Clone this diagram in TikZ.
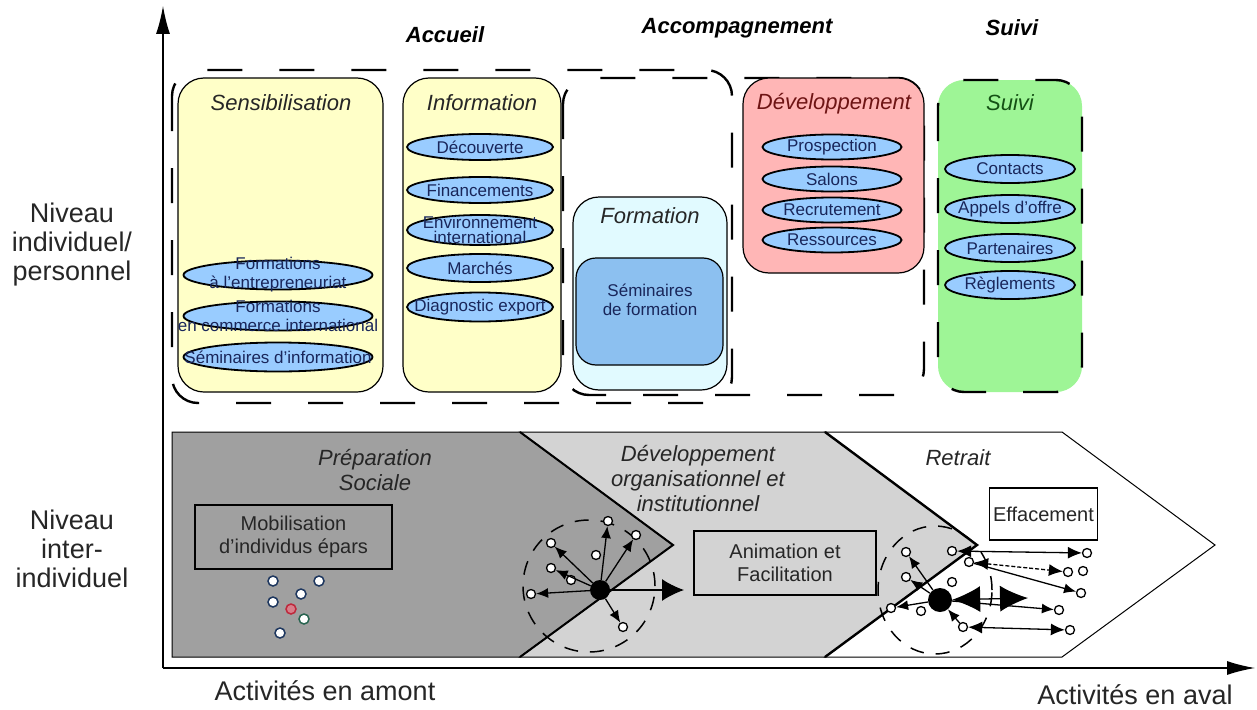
\documentclass[tikz,border=0pt]{standalone}
\usepackage{fontspec}
\setmainfont{Liberation Sans}
\usetikzlibrary{shapes.geometric,arrows.meta}
\definecolor{boxyellow}{RGB}{255,255,200}
\definecolor{ovalblue}{RGB}{153,204,255}
\definecolor{formcyan}{RGB}{225,250,255}
\definecolor{seminblue}{RGB}{140,192,240}
\definecolor{devpink}{RGB}{255,182,182}
\definecolor{suivigreen}{RGB}{158,245,150}
\definecolor{navytext}{RGB}{25,38,90}
\definecolor{devred}{RGB}{110,20,20}
\definecolor{suividark}{RGB}{20,80,20}
\definecolor{darkchev}{RGB}{160,160,160}
\definecolor{lightchev}{RGB}{211,211,211}
\definecolor{dotblue}{RGB}{30,55,95}
\definecolor{dotred}{RGB}{190,40,60}
\definecolor{dotgreen}{RGB}{40,100,80}

\begin{document}
\begin{tikzpicture}[x=1pt,y=-1pt, % pixel grid of the scanned figure
  axis/.style={line width=1.3pt,-{Latex[length=28pt,width=14pt]}},
  zone/.style={draw,line width=2.4pt,dash pattern=on 35pt off 37pt,rounded corners=26pt},
  phase/.style={draw,line width=1.2pt,rounded corners=26pt},
  title/.style={font=\fontsize{22}{22}\selectfont\itshape,text=black!85},
  head/.style={font=\fontsize{22}{22}\selectfont\bfseries\itshape},
  side/.style={font=\fontsize{27}{29}\selectfont,align=center,text=black!85},
  oval/.style={ellipse,draw,line width=1.8pt,fill=ovalblue,inner sep=0pt},
  ovaltext/.style={font=\fontsize{17}{17}\selectfont,text=navytext,align=center,inner sep=0pt},
  stage/.style={font=\fontsize{22}{25}\selectfont\itshape,align=center,text=black!85},
  act/.style={draw,line width=1.2pt,font=\fontsize{20}{23}\selectfont,align=center,text=black!85},
  pdot/.style={circle,draw=dotblue,line width=1.5pt,fill=white,inner sep=0pt,minimum size=10pt},
  dot/.style={circle,draw,line width=1.3pt,fill=white,inner sep=0pt,minimum size=9pt},
  blob/.style={circle,fill=black,inner sep=0pt,minimum size=20pt},
  ring/.style={line width=1.5pt,dash pattern=on 14pt off 12pt},
  spoke/.style={line width=1.3pt,-{Latex[length=12pt,width=10pt]}},
  twoway/.style={line width=1.3pt,{Latex[length=14pt,width=12pt]}-{Latex[length=14pt,width=12pt]}},
  bigspoke/.style={line width=1.3pt,-{Latex[length=22pt,width=22pt]}},
  bigtwoway/.style={line width=1.3pt,{Latex[length=28pt,width=26pt]}-{Latex[length=28pt,width=26pt]}}]

\useasboundingbox (0,0) rectangle (1257,709);

\coordinate (o) at (163,668);
\coordinate (ytop) at (163,6);
\coordinate (xend) at (1255,668);
\draw[axis] (o) -- (ytop);
\draw[axis] (o) -- (xend);

\node[head] (accueil) at (445,35) {Accueil};
\node[head] (accomp) at (737,28) {Accompagnement};
\node[head] (suivihd) at (1012,28) {Suivi};

\node[side] (indiv) at (72,245) {Niveau\\individuel/\\personnel};
\node[side] (inter) at (72,549) {Niveau\\inter-\\individuel};
\node[side] (amont) at (325,691) {Activités en amont};
\node[side] (aval) at (1135,695) {Activités en aval};

\draw[zone] (172,70) rectangle (732,403);
\draw[zone] (563,78) rectangle (924,395);

\draw[phase,fill=boxyellow] (178,78) rectangle (383,392);
\draw[phase,fill=boxyellow] (403,78) rectangle (561,392);
\draw[phase,fill=formcyan] (573,197) rectangle (727,390);
\draw[phase,fill=seminblue,rounded corners=20pt] (576,258) rectangle (723,365);
\draw[phase,fill=devpink] (743,78) rectangle (924,273);
\draw[zone,fill=suivigreen] (938,80) rectangle (1082,392);

\node[title] (sensT) at (281,103) {Sensibilisation};
\node[title] (infoT) at (482,103) {Information};
\node[title] (formT) at (650,216) {Formation};
\node[title,text=devred] (devT) at (834,104) {Développement};
\node[title,text=suividark] (suiviT) at (1010,103) {Suivi};

\node[oval,minimum width=189pt,minimum height=29pt,label={[ovaltext,font=\fontsize{17}{19}\selectfont]center:{Formations\\à l'entrepreneuriat}}] (entr) at (278,275) {};
\node[oval,minimum width=189pt,minimum height=29pt,label={[ovaltext,font=\fontsize{17}{19}\selectfont]center:{Formations\\en commerce international}}] (comm) at (278,316) {};
\node[oval,minimum width=189pt,minimum height=29pt,label={[ovaltext]center:{Séminaires d'information}}] (seminf) at (278,357) {};

\node[oval,minimum width=146pt,minimum height=26pt,label={[ovaltext]center:{Découverte}}] (decouv) at (480,147) {};
\node[oval,minimum width=146pt,minimum height=26pt,label={[ovaltext]center:{Financements}}] (finan) at (480,190) {};
\node[oval,minimum width=146pt,minimum height=30pt,label={[ovaltext,font=\fontsize{17}{15}\selectfont]center:{Environnement\\international}}] (envir) at (480,230) {};
\node[oval,minimum width=146pt,minimum height=28pt,label={[ovaltext]center:{Marchés}}] (march) at (480,268) {};
\node[oval,minimum width=146pt,minimum height=29pt,label={[ovaltext]center:{Diagnostic export}}] (diagn) at (480,307) {};

\node[ovaltext,font=\fontsize{17}{19}\selectfont] (semform) at (650,300) {Séminaires\\de formation};

\node[oval,minimum width=139pt,minimum height=25pt,label={[ovaltext]center:{Prospection}}] (prosp) at (832,147) {};
\node[oval,minimum width=139pt,minimum height=25pt,label={[ovaltext]center:{Salons}}] (salon) at (832,179) {};
\node[oval,minimum width=139pt,minimum height=25pt,label={[ovaltext]center:{Recrutement}}] (recrut) at (832,210) {};
\node[oval,minimum width=139pt,minimum height=25pt,label={[ovaltext]center:{Ressources}}] (ressou) at (832,240) {};

\node[oval,minimum width=130pt,minimum height=28pt,label={[ovaltext]center:{Contacts}}] (contac) at (1010,169) {};
\node[oval,minimum width=130pt,minimum height=28pt,label={[ovaltext]center:{Appels d'offre}}] (appels) at (1010,209) {};
\node[oval,minimum width=130pt,minimum height=28pt,label={[ovaltext]center:{Partenaires}}] (parten) at (1010,248) {};
\node[oval,minimum width=130pt,minimum height=28pt,label={[ovaltext]center:{Règlements}}] (reglem) at (1010,285) {};

% chevrons
\filldraw[fill=darkchev,line width=1pt] (172,432) -- (520,432) -- (673,545) -- (520,657) -- (172,657) -- cycle;
\filldraw[fill=lightchev,line width=1pt] (520,432) -- (825,432) -- (977,545) -- (825,657) -- (520,657) -- (673,545) -- cycle;
\filldraw[fill=white,line width=1pt] (825,432) -- (1062,432) -- (1215,545) -- (1062,657) -- (825,657) -- (977,545) -- cycle;
\draw[line width=2pt] (520,432) -- (673,545) -- (520,657);
\draw[line width=2.4pt] (825,432) -- (977,545) -- (825,657);

\node[stage] (prep) at (375,470) {Préparation\\Sociale};
\node[stage] (devorg) at (698,479) {Développement\\organisationnel et\\institutionnel};
\node[stage] (retrait) at (958,458) {Retrait};

\node[act,fill=darkchev,minimum width=197pt,minimum height=64pt] (mobil) at (293.5,537) {Mobilisation\\d'individus épars};
\node[act,fill=lightchev,minimum width=182pt,minimum height=64pt] (anim) at (785,563) {Animation et\\Facilitation};
\node[act,fill=white,minimum width=99pt,minimum height=52pt] (effac) at (1043.5,514) {Effacement};

\node[pdot] (p1) at (273,581) {};
\node[pdot] (p2) at (319,581) {};
\node[pdot] (p3) at (301,594) {};
\node[pdot] (p4) at (273,602) {};
\node[pdot,draw=dotred,fill=dotred!60] (p5) at (291,609) {};
\node[pdot,draw=dotgreen] (p6) at (304,619) {};
\node[pdot] (p7) at (280,633) {};

\draw[ring] (589,586) circle[radius=66pt];
\node[blob] (hub1) at (600,590) {};
\node[dot] (a1) at (551,543) {};
\node[dot] (a2) at (608,521) {};
\node[dot] (a3) at (636,535) {};
\node[dot] (a4) at (551,568) {};
\node[dot] (a5) at (531,594) {};
\node[dot] (a6) at (571,580) {};
\node[dot] (a7) at (596,555) {};
\node[dot] (a8) at (623,627) {};
\coordinate (a9) at (684,590);
\draw[spoke] (hub1) -- (a1);
\draw[spoke] (hub1) -- (a2);
\draw[spoke] (hub1) -- (a3);
\draw[spoke] (hub1) -- (a4);
\draw[spoke] (hub1) -- (a5);
\draw[spoke] (hub1) -- (a8);
\draw[bigspoke] (hub1) -- (a9);

\draw[ring] (935,590) ellipse[x radius=57pt,y radius=64pt];
\node[blob,minimum size=24pt] (hub2) at (940,600) {};
\node[dot] (b1) at (906,552) {};
\node[dot] (b2) at (906,577) {};
\node[dot] (b3) at (891,608) {};
\node[dot] (b4) at (921,611) {};
\node[dot] (b5) at (952,582) {};
\node[dot] (b6) at (952,551) {};
\node[dot] (b7) at (969,562) {};
\node[dot] (b8) at (963,627) {};
\node[dot] (r1) at (1087,553) {};
\node[dot] (r2) at (1068,572) {};
\node[dot] (r3) at (1083,571) {};
\node[dot] (r4) at (1081,593) {};
\node[dot] (r5) at (1059,610) {};
\node[dot] (r6) at (1070,630) {};
\coordinate (bd) at (1028,598);
\draw[spoke] (hub2) -- (b1);
\draw[spoke] (hub2) -- (b2);
\draw[spoke] (hub2) -- (b3);
\draw[twoway] (b6) -- (r1);
\draw[twoway,dash pattern=on 4pt off 2pt] (b7) -- (r2);
\draw[spoke] (b7) -- (r4);
\draw[bigtwoway] (hub2) -- (bd);
\draw[spoke] (hub2) -- (r5);
\draw[twoway] (b8) -- (r6);
\draw[spoke] (b8) -- (hub2);

\end{tikzpicture}
\end{document}
